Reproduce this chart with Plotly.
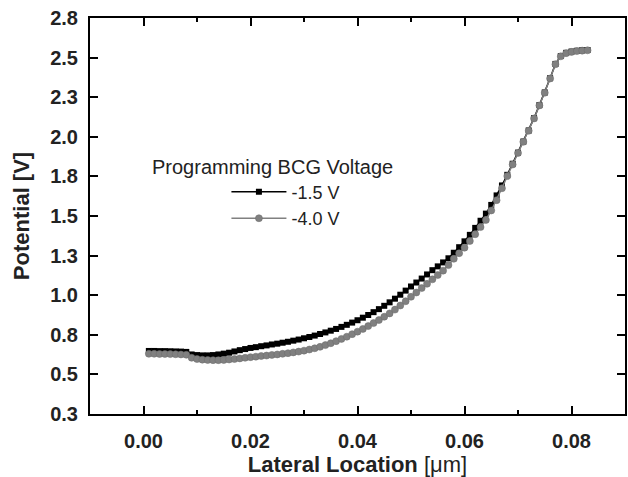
import plotly.graph_objects as go

# Lateral location [um]
x_um = [round(0.001 * i, 3) for i in range(1, 84)]

# Programming BCG voltage -1.5 V
v_m15 = [0.648, 0.648, 0.647, 0.647, 0.646, 0.645, 0.644, 0.642, 0.626, 0.622,
         0.620, 0.620, 0.622, 0.626, 0.631, 0.637, 0.645, 0.653, 0.660, 0.667,
         0.672, 0.678, 0.683, 0.689, 0.694, 0.700, 0.706, 0.713, 0.720, 0.728,
         0.736, 0.745, 0.755, 0.765, 0.776, 0.787, 0.800, 0.813, 0.827, 0.842,
         0.858, 0.875, 0.893, 0.912, 0.933, 0.955, 0.978, 1.003, 1.029, 1.055,
         1.080, 1.105, 1.131, 1.158, 1.182, 1.207, 1.233, 1.268, 1.303, 1.340,
         1.381, 1.425, 1.470, 1.515, 1.570, 1.630, 1.693, 1.760, 1.830, 1.900,
         1.970, 2.040, 2.118, 2.200, 2.280, 2.370, 2.460, 2.510, 2.530, 2.538,
         2.543, 2.546, 2.548]

# Programming BCG voltage -4.0 V
v_m40 = [0.630, 0.630, 0.629, 0.629, 0.628, 0.627, 0.626, 0.624, 0.605, 0.597,
         0.593, 0.591, 0.590, 0.590, 0.591, 0.594, 0.597, 0.601, 0.605, 0.609,
         0.612, 0.616, 0.619, 0.623, 0.626, 0.630, 0.634, 0.639, 0.644, 0.650,
         0.657, 0.665, 0.674, 0.685, 0.697, 0.710, 0.724, 0.738, 0.754, 0.770,
         0.787, 0.805, 0.824, 0.843, 0.864, 0.885, 0.909, 0.935, 0.962, 0.990,
         1.017, 1.045, 1.072, 1.100, 1.127, 1.155, 1.190, 1.230, 1.265, 1.300,
         1.342, 1.385, 1.430, 1.475, 1.535, 1.600, 1.675, 1.752, 1.825, 1.898,
         1.968, 2.038, 2.116, 2.198, 2.278, 2.368, 2.458, 2.508, 2.528, 2.536,
         2.541, 2.544, 2.546]

series_names = ["-1.5 V", "-4.0 V"]
legend_title = "Programming BCG Voltage"

y_tickvals = [0.25, 0.5, 0.75, 1.0, 1.25, 1.5, 1.75, 2.0, 2.25, 2.5, 2.75]
y_ticktext = ["0.3", "0.5", "0.8", "1.0", "1.3", "1.5", "1.8", "2.0", "2.3", "2.5", "2.8"]
x_tickvals = [0.00, 0.02, 0.04, 0.06, 0.08]
x_ticktext = ["0.00", "0.02", "0.04", "0.06", "0.08"]

FONT = "Liberation Sans, Arial, sans-serif"

fig = go.Figure()
fig.add_trace(go.Scatter(
    x=x_um, y=v_m15, name=series_names[0], mode="lines+markers",
    line=dict(color="black", width=1.5),
    marker=dict(symbol="square", size=6, color="black"),
))
fig.add_trace(go.Scatter(
    x=x_um, y=v_m40, name=series_names[1], mode="lines+markers",
    line=dict(color="#808080", width=1.5),
    marker=dict(symbol="circle", size=7, color="#808080",
                line=dict(color="#6a6a6a", width=0.5)),
))

fig.add_annotation(
    text=legend_title, xref="paper", yref="paper", x=0.342, y=0.624,
    xanchor="center", yanchor="middle", showarrow=False,
    font=dict(family=FONT, size=20, color="#222222"),
)

axis_common = dict(
    showline=True, linecolor="black", linewidth=2, mirror="ticks",
    ticks="inside", tickcolor="black", tickwidth=1.5, ticklen=8,
    showgrid=False, zeroline=False,
    tickfont=dict(family=FONT, size=20, color="#222222", weight="bold"),
)

fig.update_layout(
    width=628, height=477,
    margin=dict(l=90, r=3, t=18, b=63, autoexpand=False),
    paper_bgcolor="white", plot_bgcolor="white",
    showlegend=True,
    legend=dict(
        x=0.255, y=0.607, xanchor="left", yanchor="top",
        bgcolor="rgba(0,0,0,0)", itemwidth=55,
        font=dict(family=FONT, size=18, color="#222222"),
        tracegroupgap=0,
    ),
    xaxis=dict(
        range=[-0.01, 0.09], tickvals=x_tickvals, ticktext=x_ticktext,
        minor=dict(dtick=0.01, tick0=-0.01, ticks="inside", ticklen=4,
                   tickcolor="black", tickwidth=1.5),
        title=dict(text="<b>Lateral Location</b> [μm]", standoff=3,
                   font=dict(family=FONT, size=22, color="#222222")),
        ticklabelstandoff=8,
        automargin=False,
        **axis_common,
    ),
    yaxis=dict(
        range=[0.25, 2.75], tickvals=y_tickvals, ticktext=y_ticktext,
        title=dict(text="<b>Potential [V]</b>", standoff=14,
                   font=dict(family=FONT, size=22, color="#222222")),
        ticklabelstandoff=6,
        automargin=False,
        **axis_common,
    ),
)

fig.write_html(
    "out.html",
    config={"displayModeBar": False},
    post_script="document.body.style.margin='0';document.body.style.padding='0';",
)
